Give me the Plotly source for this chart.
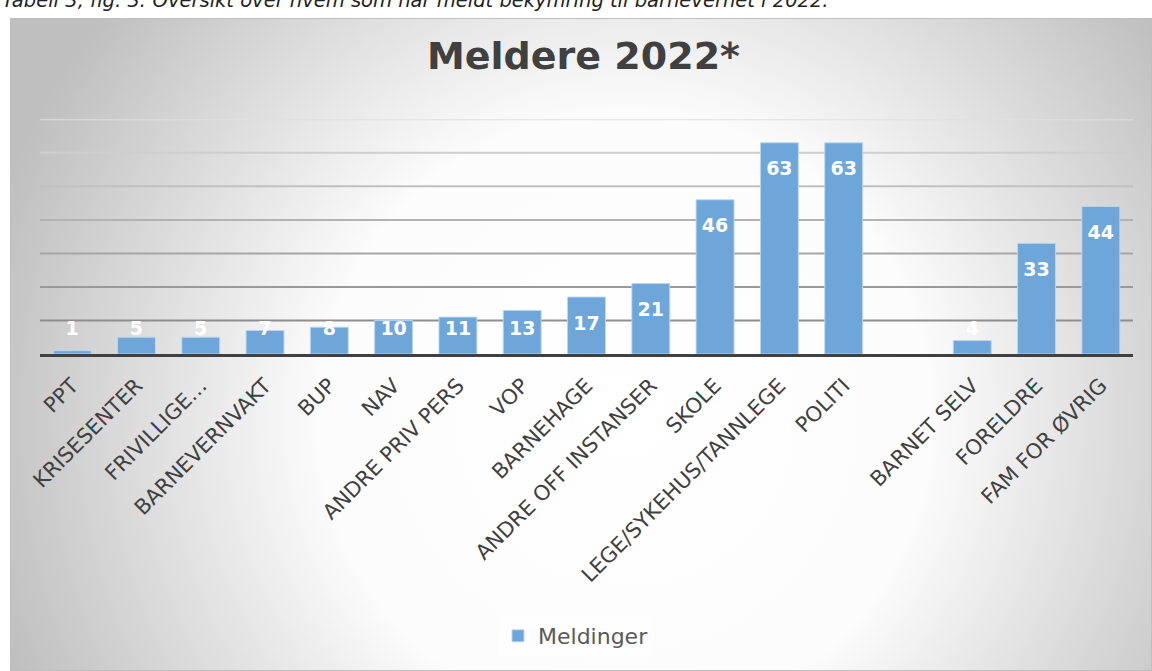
import base64
import plotly.graph_objects as go

# ---- data ----
categories = ["PPT", "KRISESENTER", "FRIVILLIGE…", "BARNEVERNVAKT", "BUP", "NAV",
              "ANDRE PRIV PERS", "VOP", "BARNEHAGE", "ANDRE OFF INSTANSER", "SKOLE",
              "LEGE/SYKEHUS/TANNLEGE", "POLITI", " ", "BARNET SELV", "FORELDRE",
              "FAM FOR ØVRIG"]
meldinger = [1, 5, 5, 7, 8, 10, 11, 13, 17, 21, 46, 63, 63, None, 4, 33, 44]
grid_values = [10, 20, 30, 40, 50, 60, 70]
series_name = "Meldinger"
title_text = "Meldere 2022*"
caption_text = "Tabell 3, fig. 3: Oversikt over hvem som har meldt bekymring til barnevernet i 2022."

# ---- styles ----
W, H = 1152, 671
bar_color = "rgb(111,166,218)"
bar_edge = "rgba(190,215,240,0.9)"
grid_colors = ["#8e8e8e", "#999999", "#a6a6a6", "#b2b2b2", "#c0c0c0", "#cecece", "#dfdfdf"]
box_left, box_top = 10, 18

# background: radial gradient (decoration)
bw, bh = W - box_left, H - box_top
svg = (f'<svg xmlns="http://www.w3.org/2000/svg" width="{bw}" height="{bh}" viewBox="0 0 {bw} {bh}">'
       f'<defs><radialGradient id="g" gradientUnits="userSpaceOnUse" cx="615" cy="400" r="660">'
       f'<stop offset="0" stop-color="#ffffff"/><stop offset="0.46" stop-color="#fcfcfc"/>'
       f'<stop offset="1" stop-color="#bfbfbf"/></radialGradient></defs>'
       f'<rect width="{bw}" height="{bh}" fill="url(#g)" stroke="#bfbfbf" stroke-width="2"/></svg>')
svg_uri = "data:image/svg+xml;base64," + base64.b64encode(svg.encode()).decode()

# label positions (inside end, with a floor for short bars)
label_y = [None if v is None else max(v - 8.3, 7.2) for v in meldinger]
label_txt = ["" if v is None else str(v) for v in meldinger]

fig = go.Figure()
fig.add_trace(go.Bar(
    x=categories, y=meldinger, name=series_name,
    marker=dict(color=bar_color, line=dict(color=bar_edge, width=1)),
    showlegend=True,
))
fig.add_trace(go.Scatter(
    x=categories, y=label_y, text=label_txt, mode="text",
    textfont=dict(family="DejaVu Sans", size=19, color="white", weight="bold"),
    showlegend=False, hoverinfo="skip",
))

plot_l, plot_r = 40, 1133
plot_t, plot_b = 119.3, 354
fig.update_layout(
    width=W, height=H, autosize=False,
    margin=dict(l=0, r=0, t=0, b=0),
    paper_bgcolor="white", plot_bgcolor="rgba(0,0,0,0)",
    bargap=0.41,
    xaxis=dict(domain=[plot_l / W, plot_r / W], type="category",
               range=[-0.5, len(categories) - 0.5],
               tickangle=-45, ticks="", showgrid=False,
               showline=True, linecolor="#404040", linewidth=3,
               tickfont=dict(family="DejaVu Sans", size=21, color="#404040"),
               ticklabelstandoff=8, automargin=False),
    yaxis=dict(domain=[(H - plot_b) / H, (H - plot_t) / H], range=[0, 70],
               showgrid=False, zeroline=False, showticklabels=False, ticks="",
               automargin=False),
    legend=dict(orientation="h", x=0.5, xanchor="center", y=(H - 636) / H, yanchor="middle",
                font=dict(family="DejaVu Sans", size=22, color="#595959"),
                bgcolor="rgba(255,255,255,0.35)"),
    images=[dict(source=svg_uri, xref="paper", yref="paper",
                 x=box_left / W, y=(H - box_top) / H, sizex=bw / W, sizey=bh / H,
                 xanchor="left", yanchor="top", sizing="stretch", layer="below")],
    showlegend=True,
)

shapes = []
for v, c in zip(grid_values, grid_colors):
    shapes.append(dict(type="line", xref="x domain", yref="y", x0=0, x1=1, y0=v, y1=v,
                       line=dict(color=c, width=2), layer="below"))
fig.update_layout(shapes=shapes)

fig.add_annotation(text=f"<b>{title_text}</b>", xref="paper", yref="paper",
                   x=583 / W, y=(H - 56) / H, xanchor="center", yanchor="middle",
                   showarrow=False, font=dict(family="DejaVu Sans", size=38, color="#404040"))
fig.add_annotation(text=f"<i>{caption_text}</i>", xref="paper", yref="paper",
                   x=0, y=(H - 1) / H, xanchor="left", yanchor="middle", yshift=0,
                   showarrow=False, font=dict(family="DejaVu Sans", size=19.5, color="#222222"))

fig.write_html("out.html", config={"displayModeBar": False},
               post_script="document.body.style.margin='0';document.body.style.overflow='hidden';")
